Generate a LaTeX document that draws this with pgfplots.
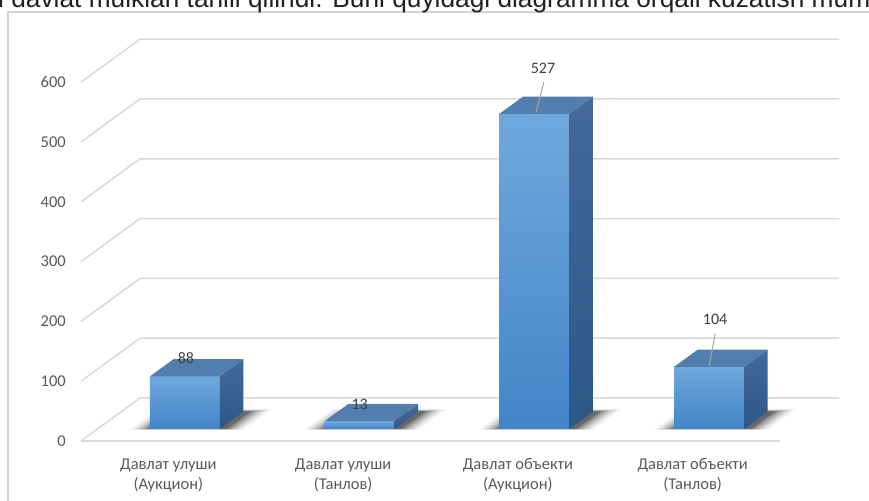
\documentclass[border=0pt]{standalone}
\usepackage{pgfplots}
\pgfplotsset{compat=1.18}
\usetikzlibrary{backgrounds}
\usepackage{fontspec}
\setmainfont{Carlito}
\newfontfamily\arialfont{Liberation Sans}
\definecolor{gridc}{HTML}{D9D9D9}
\definecolor{bordc}{HTML}{D4D4D4}
\definecolor{tickc}{HTML}{595959}
\definecolor{labc}{HTML}{404040}
\definecolor{leadc}{HTML}{A6A6A6}
\definecolor{frontT}{HTML}{6FA8DE}
\definecolor{frontB}{HTML}{4385C8}
\definecolor{sideT}{HTML}{44699A}
\definecolor{sideB}{HTML}{2C5886}
\definecolor{topc}{HTML}{527EAE}

% one layer of the soft floor shadow: left extent, right extent, front depth, back depth, opacity
\newcommand\shadowlayer[5]{%
  \pgfmathsetmacro\sa{\cc-#1}%
  \pgfmathsetmacro\sb{\cc+#2}%
  \addplot3[draw=none, fill=black, fill opacity=#5] coordinates {(\sa,#3,0) (\sb,#3,0) (\sb,#4,0) (\sa,#4,0)};
}
% cuboid bar: #1 = category centre (front plane, 0..400 scale), #2 = value
\newcommand\cuboid[2]{%
  \def\cc{#1}%
  \pgfmathsetmacro\xa{#1-20}%
  \pgfmathsetmacro\xb{#1+20}%
  \shadowlayer{31}{34}{26}{74}{0.05}
  \shadowlayer{29}{32}{26.5}{73}{0.07}
  \shadowlayer{27}{30}{27}{72}{0.10}
  \shadowlayer{25}{28}{27.3}{71}{0.14}
  \shadowlayer{23}{26}{27.6}{70}{0.18}
  \shadowlayer{21}{24}{28}{69}{0.25}
  \addplot3[draw=none, top color=frontT, bottom color=frontB] coordinates {(\xa,28,0) (\xb,28,0) (\xb,28,#2) (\xa,28,#2)};
  \addplot3[draw=none, top color=sideT, bottom color=sideB] coordinates {(\xb,28,0) (\xb,68,0) (\xb,68,#2) (\xb,28,#2)};
  \addplot3[draw=none, fill=topc] coordinates {(\xa,28,#2) (\xb,28,#2) (\xb,68,#2) (\xa,68,#2)};
}

\begin{document}
\begin{tikzpicture}[x=1bp,y=1bp]
\begin{axis}[
  at={(0,0)}, anchor=origin,
  x={(1.7475bp,0bp)}, y={(0.59bp,0.43bp)}, z={(0bp,0.598bp)},
  xmin=0, xmax=400, ymin=0, ymax=100, zmin=0, zmax=600,
  hide axis, clip=false, disabledatascaling,
]
\coordinate (O) at (axis cs:0,0,0);
% grid: left wall diagonals and back wall lines
\pgfplotsinvokeforeach{0,100,200,300,400,500,600}{
  \addplot3[gridc, line width=1.5bp] coordinates {(0,0,#1) (0,100,#1) (400,100,#1)};
  \node[anchor=east, inner sep=0, text=tickc, font=\fontsize{16.5bp}{19bp}\selectfont,
        xshift=-15bp] at (axis cs:0,0,#1) {#1};
}
% front floor edge
\addplot3[gridc, line width=1.5bp] coordinates {(0,0,0) (400,0,0)};

% bars
\cuboid{50}{88}
\cuboid{150}{13}
\cuboid{250}{527}
\cuboid{350}{104}

% data labels
\node[text=labc, font=\fontsize{16bp}{19bp}\selectfont, inner sep=0, xshift=1bp, yshift=18bp] at (axis cs:50,28,88) {88};
\node[text=labc, font=\fontsize{16bp}{19bp}\selectfont, inner sep=0, xshift=0bp, yshift=17bp] at (axis cs:150,28,13) {13};
\draw[leadc, line width=1bp] (axis cs:250,28,527) ++(1.5bp,1bp) -- ++(8bp,31bp);
\node[text=labc, font=\fontsize{16bp}{19bp}\selectfont, inner sep=0, xshift=8.6bp, yshift=45bp] at (axis cs:250,28,527) {527};
\draw[leadc, line width=1bp] (axis cs:350,28,104) ++(0bp,1bp) -- ++(6bp,32bp);
\node[text=labc, font=\fontsize{16bp}{19bp}\selectfont, inner sep=0, xshift=6bp, yshift=47bp] at (axis cs:350,28,104) {104};

% category labels
\node[anchor=base, inner sep=0, text=tickc, font=\fontsize{16.5bp}{20bp}\selectfont, yshift=-29bp] at (axis cs:50,0,0) {Давлат улуши};
\node[anchor=base, inner sep=0, text=tickc, font=\fontsize{16.5bp}{20bp}\selectfont, yshift=-49bp] at (axis cs:50,0,0) {(Аукцион)};
\node[anchor=base, inner sep=0, text=tickc, font=\fontsize{16.5bp}{20bp}\selectfont, yshift=-29bp] at (axis cs:150,0,0) {Давлат улуши};
\node[anchor=base, inner sep=0, text=tickc, font=\fontsize{16.5bp}{20bp}\selectfont, yshift=-49bp] at (axis cs:150,0,0) {(Танлов)};
\node[anchor=base, inner sep=0, text=tickc, font=\fontsize{16.5bp}{20bp}\selectfont, yshift=-29bp] at (axis cs:250,0,0) {Давлат объекти};
\node[anchor=base, inner sep=0, text=tickc, font=\fontsize{16.5bp}{20bp}\selectfont, yshift=-49bp] at (axis cs:250,0,0) {(Аукцион)};
\node[anchor=base, inner sep=0, text=tickc, font=\fontsize{16.5bp}{20bp}\selectfont, yshift=-29bp] at (axis cs:350,0,0) {Давлат объекти};
\node[anchor=base, inner sep=0, text=tickc, font=\fontsize{16.5bp}{20bp}\selectfont, yshift=-49bp] at (axis cs:350,0,0) {(Танлов)};
\end{axis}

\pgfresetboundingbox
\begin{scope}[shift={(O)}]
  \useasboundingbox (-81,-60) rectangle (788,441);
  \begin{scope}[on background layer]
    \fill[white] (-81,-60) rectangle (788,441);
  \end{scope}
  % chart frame
  \draw[bordc, line width=1.6bp] (-73,-62) -- (-73,429) -- (791,429);
  % clipped text line above the chart
  \begin{scope}
    \clip (-83,428.5) rectangle (790,443);
    \node[anchor=base west, inner sep=0, text=black!87,
          font=\arialfont\fontsize{26.3bp}{30bp}\selectfont] at (-83,433.5)
      {i davlat mulklari tahlil qilindi. Buni quyidagi diagramma orqali kuzatish mumkin};
  \end{scope}
\end{scope}
\end{tikzpicture}
\end{document}
